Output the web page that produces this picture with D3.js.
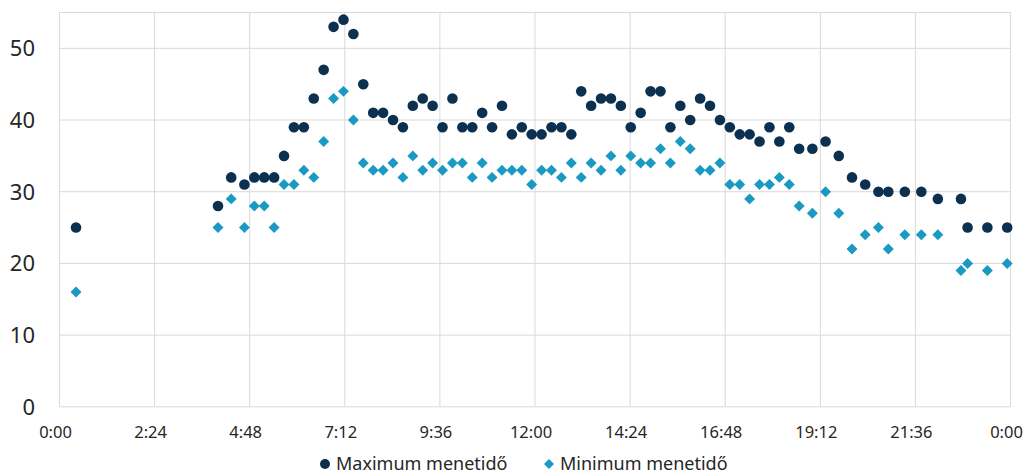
<!DOCTYPE html>
<html lang="hu">
<head>
<meta charset="UTF-8">
<title>Menetidő</title>
<script src="https://d3js.org/d3.v7.min.js"></script>
<style>
  body { margin: 0; background: #fff; }
  svg { display: block; font-family: "Noto Sans", "Open Sans", sans-serif; }
  .grid line { stroke: #d9d9d9; stroke-width: 1; }
  .tick-x { font-size: 16.5px; fill: #262626; }
  .tick-y { font-size: 22px; fill: #262626; }
  .legend text { font-size: 18px; fill: #262626; }
</style>
</head>
<body>
<div id="chart"></div>
<script>
// departure times and travel times (minutes)
const times = ["0:25", "4:00", "4:20", "4:40",
  "4:55", "5:10", "5:25", "5:40", "5:55", "6:10", "6:25", "6:40", "6:55", "7:10",
  "7:25", "7:40", "7:55", "8:10", "8:25", "8:40", "8:55", "9:10", "9:25", "9:40",
  "9:55", "10:10", "10:25", "10:40", "10:55", "11:10", "11:25", "11:40", "11:55", "12:10",
  "12:25", "12:40", "12:55", "13:10", "13:25", "13:40", "13:55", "14:10", "14:25", "14:40",
  "14:55", "15:10", "15:25", "15:40", "15:55", "16:10", "16:25", "16:40", "16:55", "17:10",
  "17:25", "17:40", "17:55", "18:10", "18:25", "18:40",
  "19:00", "19:20", "19:40", "20:00", "20:20", "20:40", "20:55", "21:20", "21:45", "22:10",
  "22:45", "22:55", "23:25", "23:55"];
const maxVals = [25, 28, 32, 31,
  32, 32, 32, 35, 39, 39, 43, 47, 53, 54,
  52, 45, 41, 41, 40, 39, 42, 43, 42, 39,
  43, 39, 39, 41, 39, 42, 38, 39, 38, 38,
  39, 39, 38, 44, 42, 43, 43, 42, 39, 41,
  44, 44, 39, 42, 40, 43, 42, 40, 39, 38,
  38, 37, 39, 37, 39, 36,
  36, 37, 35, 32, 31, 30, 30, 30, 30, 29,
  29, 25, 25, 25];
const minVals = [16, 25, 29, 25,
  28, 28, 25, 31, 31, 33, 32, 37, 43, 44,
  40, 34, 33, 33, 34, 32, 35, 33, 34, 33,
  34, 34, 32, 34, 32, 33, 33, 33, 31, 33,
  33, 32, 34, 32, 34, 33, 35, 33, 35, 34,
  34, 36, 34, 37, 36, 33, 33, 34, 31, 31,
  29, 31, 31, 32, 31, 28,
  27, 30, 27, 22, 24, 25, 22, 24, 24, 24,
  19, 20, 19, 20];
const xTickLabels = ["0:00", "2:24", "4:48", "7:12", "9:36", "12:00", "14:24", "16:48", "19:12", "21:36", "0:00"];
const yTicks = [0, 10, 20, 30, 40, 50];
const seriesNames = ["Maximum menetidő", "Minimum menetidő"];

const W = 1030, H = 473;
const plotL = 59.5, plotR = 1010.5, plotT = 12.5, plotB = 406.8;
const navy = "#0c3150", teal = "#1a9ac2";

const toMin = s => { const [h, m] = s.split(":").map(Number); return h * 60 + m; };

const svg = d3.select("#chart").append("svg").attr("width", W).attr("height", H);

const x = d3.scaleLinear().domain([0, 1440]).range([plotL, plotR]);
const y = d3.scaleLinear().domain([0, 55]).range([plotB, plotT]);

// grid
const grid = svg.append("g").attr("class", "grid");
grid.selectAll(".h").data(yTicks).enter().append("line")
  .attr("x1", plotL).attr("x2", plotR)
  .attr("y1", d => y(d)).attr("y2", d => y(d));
grid.selectAll(".v").data(xTickLabels).enter().append("line")
  .attr("x1", (d, i) => x(i * 144)).attr("x2", (d, i) => x(i * 144))
  .attr("y1", plotT).attr("y2", plotB);
grid.append("line").attr("x1", plotL).attr("x2", plotR).attr("y1", plotT).attr("y2", plotT);

// axis labels
svg.append("g").selectAll("text").data(yTicks).enter().append("text")
  .attr("class", "tick-y")
  .attr("x", 35).attr("y", d => y(d)).attr("dy", "0.36em")
  .attr("text-anchor", "end").text(d => d);
svg.append("g").selectAll("text").data(xTickLabels).enter().append("text")
  .attr("class", "tick-x")
  .attr("x", (d, i) => x(i * 144) - 4).attr("y", 438)
  .attr("text-anchor", "middle").text(d => d);

// points
const diamond = d3.symbol().type(d3.symbolSquare).size(60);
svg.append("g").selectAll("path").data(times).enter().append("path")
  .attr("d", diamond)
  .attr("fill", teal)
  .attr("transform", (d, i) => `translate(${x(toMin(d))},${y(minVals[i])}) rotate(45)`);
svg.append("g").selectAll("circle").data(times).enter().append("circle")
  .attr("cx", d => x(toMin(d))).attr("cy", (d, i) => y(maxVals[i]))
  .attr("r", 5.3).attr("fill", navy);

// legend
const lg = svg.append("g").attr("class", "legend");
lg.append("circle").attr("cx", 325).attr("cy", 464).attr("r", 5).attr("fill", navy);
lg.append("text").attr("x", 336).attr("y", 469.5).text(seriesNames[0]);
lg.append("path").attr("d", d3.symbol().type(d3.symbolSquare).size(50))
  .attr("transform", "translate(549,464) rotate(45)").attr("fill", teal);
lg.append("text").attr("x", 560).attr("y", 469.5).text(seriesNames[1]);
</script>
</body>
</html>
